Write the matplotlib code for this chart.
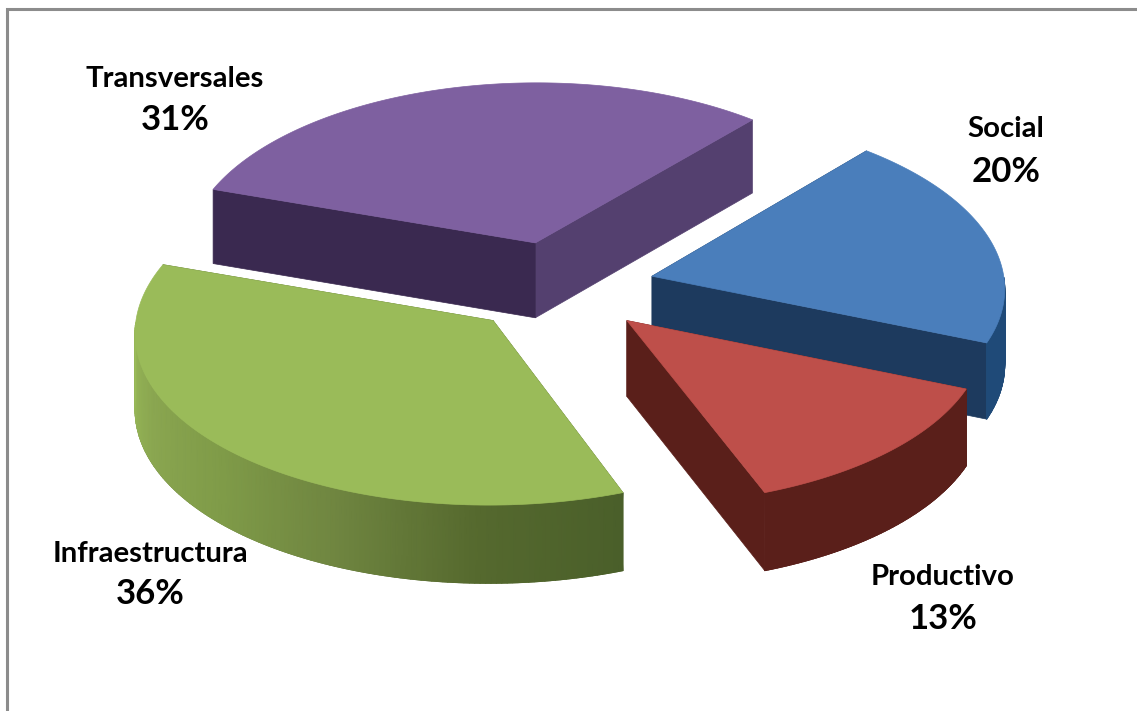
import numpy as np
import matplotlib
matplotlib.use('Agg')
import matplotlib.pyplot as plt
from matplotlib.patches import Polygon
from matplotlib.colors import LinearSegmentedColormap

categories = ['Social', 'Productivo', 'Infraestructura', 'Transversales']
values = [20, 13, 36, 31]
pct_labels = ['20%', '13%', '36%', '31%']

top_color = ['#4a7ebb', '#be4f4a', '#9abb59', '#7e60a0']
end_cut_color = ['#1d3a5e', '#5a1f1a', '#4f6329', '#54406f']
start_cut_color = ['#1d3a5e', '#5a1f1a', '#4f6329', '#3a2950']
wall_colors = [['#1f4a78', '#1f4a78'],
               ['#5a1f1a', '#5a1f1a'],
               ['#4a5f2a', '#55692e', '#6f8540', '#7f9b48', '#8aa650', '#9abb59'],
               ['#3a2950', '#3a2950']]
label_xy = [(1006, 129), (943, 577), (150, 554), (175, 79)]
pct_xy = [(1006, 172), (943, 619), (150, 594), (175, 120)]

# view of the pie, in pixels
cx, cy = 560, 287
radius = 353
squash = 0.4875
persp_x = 0.06
persp_y = 0.049
depth = 75.5
explode = 95
start = 40.5


def project(u, v, z=0.0):
    u, v = np.asarray(u), np.asarray(v)
    x = cx + u / (1 - persp_x * v / radius)
    y = cy + squash * v / (1 - persp_y * v / radius)
    return x, y + z * (1 + 0.03 * v / radius)


fig = plt.figure(figsize=(11.37, 7.11), dpi=100)
ax = fig.add_axes([0, 0, 1, 1])
ax.set_xlim(0, 1137)
ax.set_ylim(711, 0)
ax.axis('off')

ax.plot([7, 7, 1137], [711, 8.5, 8.5], color='#8c8c8c', lw=2.2, solid_joinstyle='miter')

frac = np.array(values) / sum(values) * 360
edges = start + np.concatenate([[0], np.cumsum(frac)])

# back slices first
for i in [3, 0, 1, 2]:
    a = np.radians(np.linspace(edges[i], edges[i + 1], 160))
    mid = np.radians((edges[i] + edges[i + 1]) / 2)
    ou, ov = explode * np.sin(mid), -explode * np.cos(mid)
    u = ou + radius * np.sin(a)
    v = ov - radius * np.cos(a)

    px, py = project(ou, ov)
    bx, by = project(ou, ov, depth)
    tx, ty = project(u, v)
    dx, dy = project(u, v, depth)

    # the two cut faces
    ax.add_patch(Polygon([(px, py), (tx[-1], ty[-1]), (dx[-1], dy[-1]), (bx, by)],
                         fc=end_cut_color[i], ec=end_cut_color[i], lw=0.5, zorder=i + 1))
    ax.add_patch(Polygon([(px, py), (tx[0], ty[0]), (dx[0], dy[0]), (bx, by)],
                         fc=start_cut_color[i], ec=start_cut_color[i], lw=0.5, zorder=i + 1))

    # outer wall, only the part that faces the viewer
    front = np.cos(a) < 0
    if front.sum() > 1:
        cmap = LinearSegmentedColormap.from_list('wall', wall_colors[i])
        t = np.linspace(0, 1, front.sum())
        wx = np.vstack([tx[front], dx[front]])
        wy = np.vstack([ty[front], dy[front]])
        ax.pcolormesh(wx, wy, np.vstack([t, t]), shading='gouraud', cmap=cmap,
                      vmin=0, vmax=1, zorder=i + 1.1)
        ax.plot(dx[front], dy[front], color=wall_colors[i][1], lw=0.6, zorder=i + 1.05)

    ax.add_patch(Polygon(np.column_stack([np.r_[px, tx], np.r_[py, ty]]),
                         fc=top_color[i], ec=top_color[i], lw=0.5, zorder=i + 1.2))

for i in range(4):
    ax.text(*label_xy[i], categories[i], family='Lato', weight='bold', fontsize=21.2,
            ha='center', va='center', color='black', zorder=10)
    ax.text(*pct_xy[i], pct_labels[i], family='Lato', weight='bold', fontsize=25,
            ha='center', va='center', color='black', zorder=10)

plt.savefig('out.png', dpi=100)
